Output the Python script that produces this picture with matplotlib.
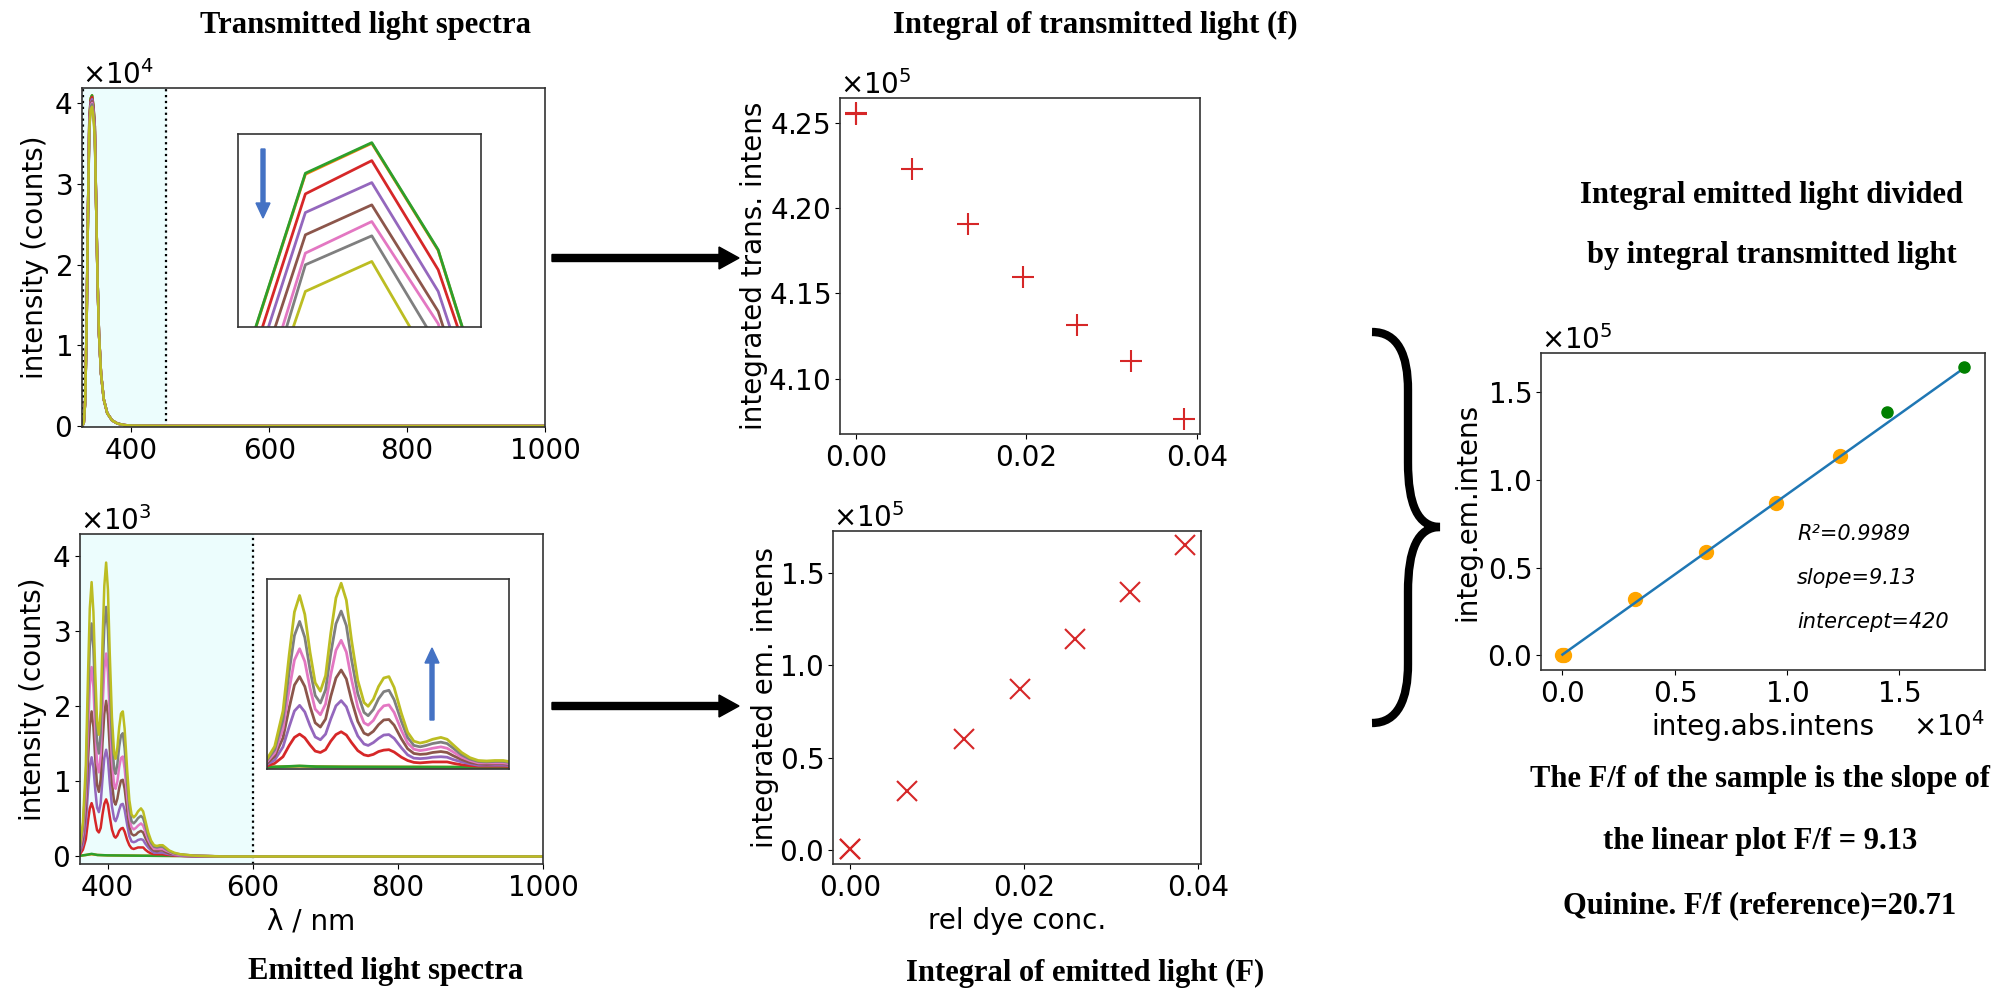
import matplotlib.pyplot as plt
from matplotlib.path import Path
from matplotlib.patches import PathPatch
import numpy as np

W, H = 2002, 991

# ---- transmitted light spectra (counts) ----
trans_wl = [328, 331, 333, 335, 337, 339, 341, 343, 345, 347, 349, 351, 353, 356,
            360, 365, 372, 380, 390, 400, 450, 600, 1000]
trans_left = [0, 400, 3000, 12000, 26000]
trans_right = [27000, 18000, 11500, 6500, 3300, 1600, 700, 300, 120, 50, 10, 0, 0]
trans_colors = ['C1', 'C2', 'C3', 'C4', 'C5', 'C6', 'C7', 'C8']
trans_peak = [
    [38152, 40620, 40992, 39704, 37152],
    [38160, 40632, 41000, 39712, 37160],
    [37908, 40384, 40784, 39472, 37124],
    [37684, 40160, 40520, 39212, 36792],
    [37456, 39892, 40252, 38972, 36492],
    [37088, 39672, 40052, 38824, 36344],
    [36888, 39532, 39880, 38552, 36072],
    [36860, 39212, 39572, 38200, 35720],
]
trans_marks = [330, 450]

# ---- emitted light spectra (x10^3 counts) ----
em_wl = [362, 366, 370, 373, 375.5, 378, 380.5, 383, 385.5, 388, 390.5, 393, 395.5, 398,
         400.5, 403, 406, 409, 411, 413.5, 416, 418.5, 421, 423.5, 427, 430, 433, 436,
         439, 442, 446, 449, 452, 456, 460, 464, 468, 472, 476, 480, 485, 492, 500, 520,
         560, 600, 700, 1000]
em_blank_wl = [362, 370, 378, 386, 400, 450, 600, 1000]
em_orange = [0.01, 0.02, 0.03, 0.02, 0.015, 0.01, 0.0, 0.0]
em_green = [0.01, 0.02, 0.035, 0.02, 0.015, 0.01, 0.0, 0.0]
em_red = [0.03, 0.09, 0.23, 0.47, 0.64, 0.71, 0.63, 0.48, 0.35, 0.32, 0.38, 0.56, 0.70, 0.76,
          0.69, 0.53, 0.36, 0.27, 0.25, 0.28, 0.34, 0.37, 0.38, 0.33, 0.22, 0.15, 0.11, 0.10,
          0.11, 0.12, 0.12, 0.12, 0.09, 0.06, 0.04, 0.03, 0.03, 0.03, 0.03, 0.02, 0.02, 0.01,
          0.01, 0.0, 0.0, 0.0, 0.0, 0.0]
em_purple = [0.06, 0.16, 0.44, 0.87, 1.20, 1.32, 1.18, 0.89, 0.65, 0.59, 0.71, 1.03, 1.31, 1.42,
             1.29, 0.98, 0.67, 0.50, 0.47, 0.53, 0.62, 0.69, 0.70, 0.62, 0.42, 0.27, 0.20, 0.19,
             0.20, 0.22, 0.23, 0.22, 0.17, 0.12, 0.08, 0.05, 0.05, 0.05, 0.05, 0.04, 0.03, 0.02,
             0.01, 0.0, 0.0, 0.0, 0.0, 0.0]
em_brown = [0.08, 0.24, 0.63, 1.27, 1.75, 1.93, 1.72, 1.30, 0.95, 0.86, 1.03, 1.51, 1.90, 2.07,
            1.88, 1.43, 0.98, 0.73, 0.69, 0.77, 0.91, 1.01, 1.02, 0.90, 0.61, 0.40, 0.30, 0.28,
            0.29, 0.32, 0.34, 0.32, 0.25, 0.17, 0.11, 0.08, 0.07, 0.08, 0.08, 0.06, 0.04, 0.03,
            0.02, 0.01, 0.0, 0.0, 0.0, 0.0]
em_pink = [0.11, 0.31, 0.83, 1.66, 2.28, 2.52, 2.25, 1.69, 1.24, 1.12, 1.35, 1.97, 2.49, 2.70,
           2.45, 1.87, 1.28, 0.95, 0.90, 1.00, 1.19, 1.31, 1.33, 1.17, 0.79, 0.52, 0.39, 0.36,
           0.38, 0.41, 0.44, 0.41, 0.33, 0.22, 0.15, 0.10, 0.10, 0.10, 0.10, 0.08, 0.06, 0.03,
           0.02, 0.01, 0.0, 0.0, 0.0, 0.0]
em_gray = [0.14, 0.38, 1.02, 2.04, 2.80, 3.10, 2.76, 2.08, 1.53, 1.37, 1.65, 2.42, 3.05, 3.32,
           3.01, 2.29, 1.57, 1.17, 1.10, 1.23, 1.46, 1.61, 1.64, 1.44, 0.98, 0.64, 0.47, 0.44,
           0.47, 0.51, 0.54, 0.51, 0.41, 0.27, 0.18, 0.13, 0.12, 0.13, 0.13, 0.10, 0.07, 0.04,
           0.03, 0.01, 0.0, 0.0, 0.0, 0.0]
em_olive = [0.16, 0.45, 1.20, 2.40, 3.30, 3.65, 3.25, 2.45, 1.80, 1.62, 1.95, 2.85, 3.60, 3.91,
            3.55, 2.70, 1.85, 1.38, 1.30, 1.45, 1.72, 1.90, 1.93, 1.70, 1.15, 0.75, 0.56, 0.52,
            0.55, 0.60, 0.64, 0.60, 0.48, 0.32, 0.21, 0.15, 0.14, 0.15, 0.15, 0.12, 0.08, 0.05,
            0.03, 0.01, 0.0, 0.0, 0.0, 0.0]
em_marks = [600]

# ---- integrals vs relative dye concentration ----
conc = [0.0, 0.0, 0.0066, 0.0131, 0.0196, 0.0259, 0.0322, 0.0385]
integ_trans = [4.2560, 4.2552, 4.2228, 4.1909, 4.1598, 4.1313, 4.1104, 4.0761]   # x10^5
integ_em = [0.004, 0.005, 0.321, 0.5985, 0.8725, 1.139, 1.397, 1.648]            # x10^5

# ---- F vs f ----
abs_fit_pts = [0.0, 0.006, 0.321, 0.639, 0.950, 1.238]     # x10^4
em_fit_pts = [0.0, 0.002, 0.319, 0.591, 0.867, 1.137]      # x10^5
abs_extra = [1.446, 1.789]
em_extra = [1.390, 1.643]
slope, intercept, r2 = 9.13, 420, 0.9989

plt.rcParams['font.size'] = 20
plt.rcParams['axes.edgecolor'] = '#333333'
plt.rcParams['axes.linewidth'] = 1.2

fig = plt.figure(figsize=(W / 100, H / 100), dpi=100)


def px_axes(x0, y0, x1, y1, **kw):
    return fig.add_axes([x0 / W, 1 - y1 / H, (x1 - x0) / W, (y1 - y0) / H], **kw)


shade = '#ecfdfd'
blue_arrow = '#4472c4'

# transmitted spectra
ax1 = px_axes(82, 88, 545, 427)
ax1.axvspan(trans_marks[0], trans_marks[1], color=shade, zorder=0)
for m in trans_marks:
    ax1.axvline(m, color='black', ls=':', lw=1.6)
for c, pk in zip(trans_colors, trans_peak):
    ax1.plot(trans_wl, trans_left + pk + trans_right, color=c, lw=1.8)
ax1.set_xlim(328.4, 1000)
ax1.set_ylim(-120, 41900)
ax1.set_xticks([400, 600, 800, 1000])
ax1.set_yticks([0, 10000, 20000, 30000, 40000])
ax1.ticklabel_format(axis='y', style='sci', scilimits=(0, 0), useMathText=True)
ax1.set_ylabel('intensity (counts)')

in1 = px_axes(238, 134, 481, 327, zorder=5)
for c, pk in zip(trans_colors, trans_peak):
    in1.plot(trans_wl, trans_left + pk + trans_right, color=c, lw=2)
in1.set_xlim(338.97, 346.29)
in1.set_ylim(38784, 41104)
in1.set_xticks([])
in1.set_yticks([])

# emitted spectra
em_list = [em_red, em_purple, em_brown, em_pink, em_gray, em_olive]
ax2 = px_axes(80, 534, 543, 864)
ax2.axvspan(350, em_marks[0], color=shade, zorder=0)
for m in em_marks:
    ax2.axvline(m, color='black', ls=':', lw=1.6)
ax2.plot(em_blank_wl, np.array(em_orange) * 1e3, color='C1', lw=1.8)
ax2.plot(em_blank_wl, np.array(em_green) * 1e3, color='C2', lw=1.8)
for c, ys in zip(trans_colors[2:], em_list):
    ax2.plot(em_wl, np.array(ys) * 1e3, color=c, lw=1.8)
ax2.set_xlim(362, 1000)
ax2.set_ylim(-100, 4290)
ax2.set_xticks([400, 600, 800, 1000])
ax2.set_yticks([0, 1000, 2000, 3000, 4000])
ax2.ticklabel_format(axis='y', style='sci', scilimits=(0, 0), useMathText=True)
ax2.set_ylabel('intensity (counts)')
ax2.set_xlabel('λ / nm')

in2 = px_axes(267, 579, 509, 769, zorder=5)
in2.plot(em_blank_wl, np.array(em_orange) * 1e3, color='C1', lw=2)
in2.plot(em_blank_wl, np.array(em_green) * 1e3, color='C2', lw=2)
for c, ys in zip(trans_colors[2:], em_list):
    in2.plot(em_wl, np.array(ys) * 1e3, color=c, lw=2)
in2.set_xlim(362.3, 478.8)
in2.set_ylim(-30, 4000)
in2.set_xticks([])
in2.set_yticks([])

# integral of transmitted light
ax3 = px_axes(840, 98, 1200, 434)
ax3.plot(conc, np.array(integ_trans) * 1e5, '+', color='C3', ms=16, mew=1.5)
ax3.set_xlim(-0.00187, 0.04035)
ax3.set_ylim(4.0675e5, 4.2647e5)
ax3.set_xticks([0, 0.02, 0.04])
ax3.set_yticks([4.10e5, 4.15e5, 4.20e5, 4.25e5])
ax3.ticklabel_format(axis='y', style='sci', scilimits=(0, 0), useMathText=True)
ax3.set_ylabel('integrated trans. intens', labelpad=0)

# integral of emitted light
ax4 = px_axes(833, 531, 1201, 864)
ax4.plot(conc, np.array(integ_em) * 1e5, 'x', color='C3', ms=14, mew=1.5)
ax4.set_xlim(-0.00194, 0.04034)
ax4.set_ylim(-0.0752e5, 1.7255e5)
ax4.set_xticks([0, 0.02, 0.04])
ax4.set_yticks([0, 0.5e5, 1.0e5, 1.5e5])
ax4.ticklabel_format(axis='y', style='sci', scilimits=(0, 0), useMathText=True)
ax4.set_ylabel('integrated em. intens', labelpad=0)
ax4.set_xlabel('rel dye conc.')

# F vs f
ax5 = px_axes(1541, 353, 1985, 670)
fit_x = np.array([abs_fit_pts[0], abs_extra[-1]]) * 1e4
ax5.plot(fit_x, slope * fit_x + intercept, color='C0', lw=1.8, zorder=3)
ax5.plot(np.array(abs_fit_pts) * 1e4, np.array(em_fit_pts) * 1e5, 'o', color='orange', ms=10, zorder=2)
ax5.plot(np.array(abs_extra) * 1e4, np.array(em_extra) * 1e5, 'o', color='green', ms=8, zorder=4)
ax5.set_xlim(-0.0958e4, 1.883e4)
ax5.set_ylim(-0.0838e5, 1.724e5)
ax5.set_xticks([0, 0.5e4, 1.0e4, 1.5e4])
ax5.set_yticks([0, 0.5e5, 1.0e5, 1.5e5])
ax5.ticklabel_format(axis='both', style='sci', scilimits=(0, 0), useMathText=True)
ax5.set_xlabel('integ.abs.intens')
ax5.set_ylabel('integ.em.intens')
ax5.text(0.577, 0.43, f'R²={r2}', transform=ax5.transAxes, style='italic', size=15, va='center')
ax5.text(0.577, 0.29, f'slope={slope}', transform=ax5.transAxes, style='italic', size=15, va='center')
ax5.text(0.577, 0.15, f'intercept={intercept}', transform=ax5.transAxes, style='italic', size=15, va='center')

# overlay in pixel coordinates for titles, arrows and brace
ov = fig.add_axes([0, 0, 1, 1], zorder=10)
ov.set_xlim(0, W)
ov.set_ylim(H, 0)
ov.axis('off')
ov.patch.set_alpha(0)

serif = dict(family='Liberation Serif', weight='bold', size=22, ha='center', va='baseline')
ov.text(365, 33, 'Transmitted light spectra', **serif)
ov.text(1095, 33, 'Integral of transmitted light (f)', **serif)
ov.text(386, 979, 'Emitted light spectra', **serif)
ov.text(1085, 981, 'Integral of emitted light (F)', **serif)
ov.text(1772, 203, 'Integral emitted light divided', **serif)
ov.text(1772, 263, 'by integral transmitted light', **serif)
ov.text(1760, 787, 'The F/f of the sample is the slope of', **serif)
ov.text(1760, 849, f'the linear plot F/f = {slope}', **serif)
ov.text(1760, 913, 'Quinine. F/f (reference)=20.71', **serif)

for y in (258, 706):
    ov.arrow(552, y, 187, 0, width=7, head_width=22, head_length=20,
             length_includes_head=True, color='black')

ov.arrow(263, 149, 0, 69, width=4, head_width=14, head_length=15,
         length_includes_head=True, color=blue_arrow)
ov.arrow(432, 720, 0, -72, width=4, head_width=14, head_length=15,
         length_includes_head=True, color=blue_arrow)

verts = [(1372, 332), (1398, 332), (1408, 355), (1408, 390),
         (1408, 462),
         (1408, 505), (1418, 527), (1440, 527),
         (1418, 527), (1408, 549), (1408, 592),
         (1408, 664),
         (1408, 699), (1398, 723), (1372, 723)]
codes = [Path.MOVETO, Path.CURVE4, Path.CURVE4, Path.CURVE4,
         Path.LINETO,
         Path.CURVE4, Path.CURVE4, Path.CURVE4,
         Path.CURVE4, Path.CURVE4, Path.CURVE4,
         Path.LINETO,
         Path.CURVE4, Path.CURVE4, Path.CURVE4]
ov.add_patch(PathPatch(Path(verts, codes), fill=False, lw=6, color='black', capstyle='butt'))

fig.savefig('out.png', dpi=100)
